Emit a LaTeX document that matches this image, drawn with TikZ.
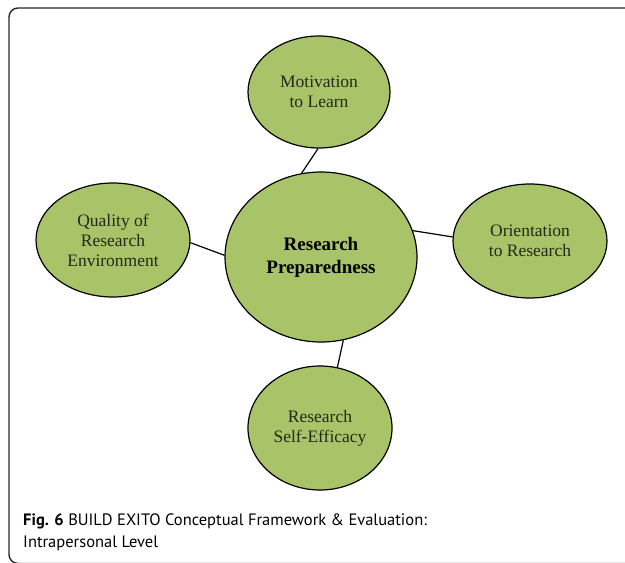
\documentclass[tikz,border=0pt]{standalone}
\usepackage{fontspec}
\setmainfont{Liberation Serif}
\newfontfamily\captionfont{PT Sans}
\usepackage{tikz}
\usetikzlibrary{shapes.geometric}
\definecolor{factorgreen}{RGB}{169,196,104}
\definecolor{factortext}{RGB}{35,40,25}

\begin{document}
\begin{tikzpicture}[x=1pt,y=-1pt,
    factor/.style={ellipse,draw=black,line width=1.2pt,fill=factorgreen,inner sep=0pt,align=center,text=factortext,font=\fontsize{17.5}{20}\selectfont},
    core/.style={factor,text=black,font=\fontsize{19}{23}\selectfont\bfseries}]
                % Page frame
                \useasboundingbox (0,0) rectangle (625,563);
                \clip (0,0) rectangle (625,563);
                \draw[line width=1.4pt,black!85,rounded corners=9pt](9,8) rectangle (660,563.5);
                % Ellipses
                \node[core,minimum width=192pt,minimum height=170pt] (prep) at (321,257) {Research\\Preparedness};
                \node[factor,minimum width=142pt,minimum height=112pt] (motiv) at (319,92) {Motivation\\to Learn};
                \node[factor,minimum width=154pt,minimum height=114pt] (orient) at (530,241) {Orientation\\to Research};
                \node[factor,minimum width=154pt,minimum height=114pt] (quality) at (113,240) {Quality of\\Research\\Environment};
                \node[factor,minimum width=144pt,minimum height=124pt] (selfeff) at (320,428) {Research\\Self-Efficacy};
                % Links
                \draw[line width=1.2pt](motiv.-91)--(prep.103);
                \draw[line width=1.2pt](quality.-2)--(prep.179);
                \draw[line width=1.2pt](prep.16)--(orient.177);
                \draw[line width=1.2pt](prep.-75)--(selfeff.74);
                % Caption
                \node[anchor=base west,inner sep=0pt,align=left,font=\captionfont\fontsize{16.5}{22}\selectfont] (caption) at (23,547)
                    {\textbf{Fig. 6} BUILD EXITO Conceptual Framework \& Evaluation:\\Intrapersonal Level};
            \end{tikzpicture}
\end{document}
